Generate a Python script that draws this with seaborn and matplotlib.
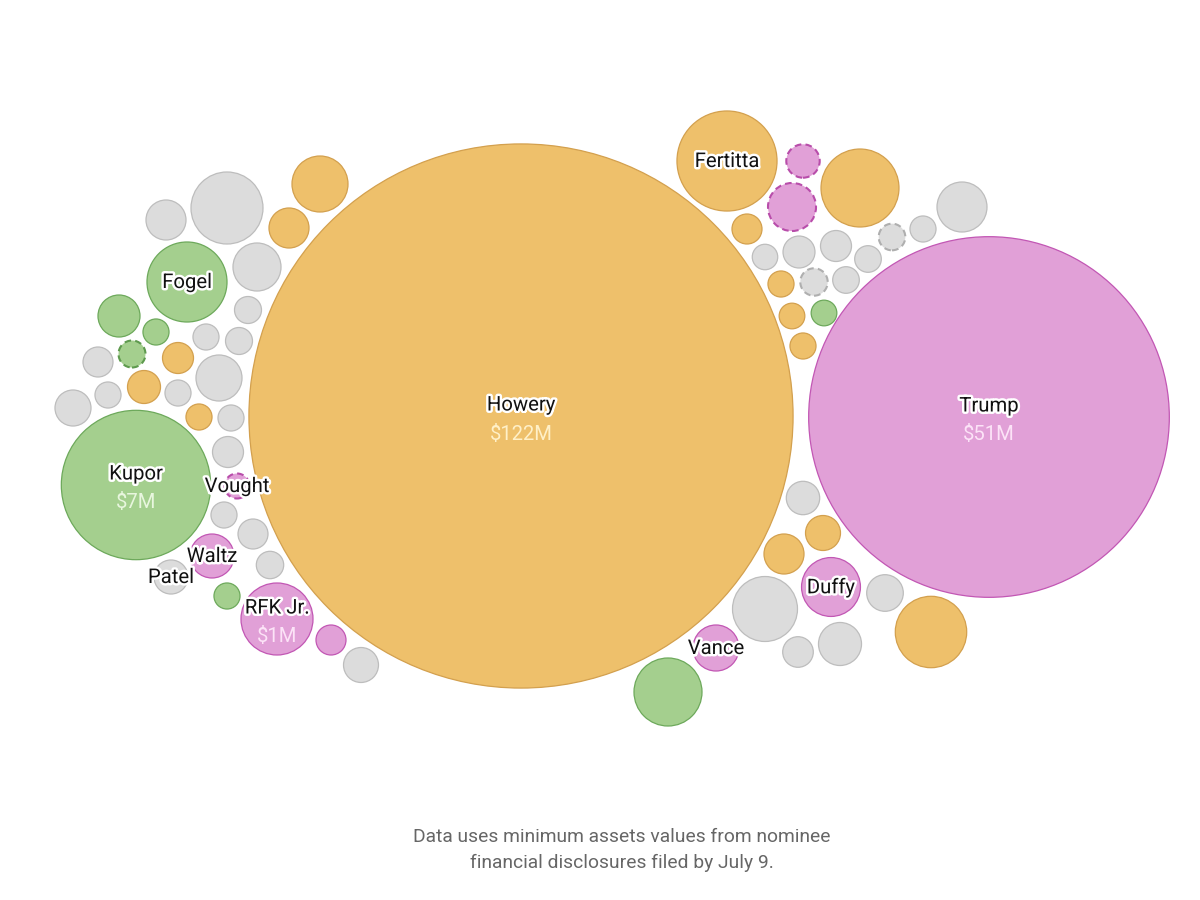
import numpy as np
import pandas as pd
import matplotlib
matplotlib.use("Agg")
import matplotlib.pyplot as plt
import matplotlib.patheffects as pe
import seaborn as sns

# ---------------- data ----------------
# bubble layout centres (layout units), category,
# minimum assets in $M, whether the value is an estimate (dashed outline), label
layout_x = [521, 989, 136, 727, 187, 277, 831, 716, 212, 237, 171,
            166, 227, 320, 289, 257, 119, 156, 248, 132, 98, 178, 206, 239,
            219, 144, 108, 178, 73, 199, 231, 228, 224, 253, 270, 227, 331, 361,
            803, 792, 860, 962, 747, 923, 892, 765, 799, 836, 868, 781, 814,
            846, 792, 824, 803, 803, 823, 784, 765, 885, 931, 798, 840, 668]
layout_y = [416, 417, 485, 161, 282, 619, 587, 648, 556, 486, 577,
            220, 208, 184, 228, 267, 316, 332, 310, 354, 362, 358, 337, 341,
            378, 387, 395, 393, 408, 417, 418, 452, 515, 534, 565, 596, 640, 665,
            161, 207, 188, 207, 229, 229, 237, 257, 252, 246, 259, 284, 282,
            280, 316, 313, 346, 498, 533, 554, 609, 593, 632, 652, 644, 692]
category = ["orange", "pink", "green", "orange", "green", "pink", "pink", "pink", "pink", "pink", "gray",
            "gray", "gray", "orange", "orange", "gray", "green", "green", "gray", "green", "gray", "orange",
            "gray", "gray", "gray", "orange", "gray", "gray", "gray", "orange", "gray", "gray", "gray",
            "gray", "gray", "green", "pink", "gray",
            "pink", "pink", "orange", "gray", "orange", "gray", "gray", "gray", "gray", "gray", "gray",
            "orange", "gray", "gray", "orange", "green", "orange", "gray", "orange", "orange", "gray",
            "gray", "orange", "gray", "gray", "green"]
assets_m = [122, 51, 7, 2.55, 1.37, 1.0, 0.52, 0.20, 0.163, 0.0, 0.037,
            0.102, 1.0, 0.435, 0.102, 0.24, 0.131, 0.0005, 0.0018, 0.0018, 0.0113, 0.0163, 0.0005, 0.0018,
            0.20, 0.029, 0.0005, 0.0005, 0.055, 0.0005, 0.0005, 0.0163, 0.0005, 0.0113, 0.0026, 0.0005,
            0.0113, 0.045,
            0.032, 0.24, 1.27, 0.283, 0.0113, 0.0005, 0.0012, 0.0001, 0.022, 0.0163, 0.0012, 0.0005,
            0.0026, 0.0012, 0.0002, 0.0002, 0.0005, 0.032, 0.045, 0.102, 0.724, 0.061, 0.975, 0.0142,
            0.147, 0.837]
estimated = [False, False, False, False, False, False, False, False, False, True, False,
             False, False, False, False, False, False, False, False, True, False, False, False, False,
             False, False, False, False, False, False, False, False, False, False, False, False, False, False,
             True, True, False, False, False, False, True, False, False, False, False, False, True,
             False, False, False, False, False, False, False, False, False, False, False, False, False]
names = ["Howery", "Trump", "Kupor", "Fertitta", "Fogel", "RFK Jr.", "Duffy", "Vance", "Waltz",
         "Vought", "Patel"] + [""] * 53
value_labels = ["$122M", "$51M", "$7M", "", "", "$1M", "", "", "", "", ""] + [""] * 53

caption = "Data uses minimum assets values from nominee\nfinancial disclosures filed by July 9."

df = pd.DataFrame({"x": layout_x, "y": layout_y, "cat": category, "assets": assets_m,
                   "est": estimated, "name": names, "val": value_labels})

# ---------------- style ----------------
fills = {"orange": "#EEC06B", "pink": "#E1A0D7", "green": "#A4CF8E", "gray": "#DCDCDC"}
edges = {"orange": "#D3A04E", "pink": "#C257B4", "green": "#6DA95B", "gray": "#BDBDBD"}
dash_edges = {"orange": "#C8923E", "pink": "#B84DAA", "green": "#5E9A4E", "gray": "#AFAFAF"}
value_colors = {"orange": "#FFF0C8", "pink": "#FCE3F7", "green": "#E8F6DE", "gray": "#FFFFFF"}

sns.set_theme(style="white")
plt.rcParams["font.family"] = ["Roboto", "DejaVu Sans"]

fig = plt.figure(figsize=(12, 9), dpi=100)
ax = fig.add_axes([0, 0, 1, 1])
ax.set_xlim(0, 1200)
ax.set_ylim(900, 0)
ax.set_aspect("equal")
ax.axis("off")


def radius_scale(v):
    # radius (layout units) as a function of assets ($M)
    return 12.5 + 23.5 * np.sqrt(np.asarray(v, dtype=float))


# points per layout unit, from the axes transform
p0 = ax.transData.transform([[0, 0], [1, 0]])
pt_per_unit = abs(p0[1, 0] - p0[0, 0]) * 72.0 / fig.dpi

for (cat, est), sub in df.groupby(["cat", "est"]):
    r = radius_scale(sub["assets"])
    s = (2 * r * pt_per_unit) ** 2
    if est:
        kw = dict(edgecolor=dash_edges[cat], linewidth=1.5, linestyle=(0, (3.2, 2.0)))
    else:
        kw = dict(edgecolor=edges[cat], linewidth=0.9)
    sns.scatterplot(data=sub, x="x", y="y", s=np.asarray(s), color=fills[cat],
                    ax=ax, legend=False, zorder=2, **kw)

ax.set_xlabel("")
ax.set_ylabel("")
ax.set_xlim(0, 1200)
ax.set_ylim(900, 0)

stroke = [pe.withStroke(linewidth=3.5, foreground="white")]
for _, row in df[df["name"] != ""].iterrows():
    if row["val"]:
        ax.text(row["x"], row["y"] - 11, row["name"], ha="center", va="center",
                fontsize=14.6, color="#111111", path_effects=stroke, zorder=5)
        ax.text(row["x"], row["y"] + 18, row["val"], ha="center", va="center",
                fontsize=14.6, color=value_colors[row["cat"]], zorder=5)
    else:
        ax.text(row["x"], row["y"] + 0.5, row["name"], ha="center", va="center",
                fontsize=14.6, color="#111111", path_effects=stroke, zorder=5)

fig.text(0.5185, 1 - 850 / 900, caption, ha="center", va="center", fontsize=13.9,
         color="#666666", linespacing=1.6)

fig.savefig("out.png", dpi=100, facecolor="white")
